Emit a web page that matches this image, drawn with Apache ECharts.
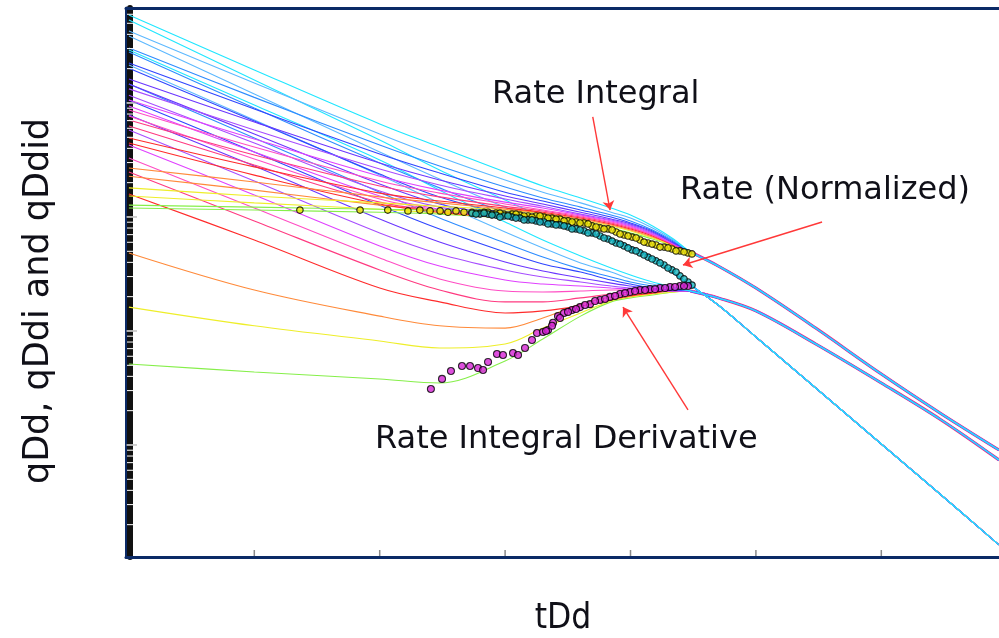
<!DOCTYPE html>
<html><head><meta charset="utf-8">
<script src="https://cdn.jsdelivr.net/npm/echarts@6.0.0/dist/echarts.min.js"></script>
<style>html,body{margin:0;padding:0;background:#fff}#c{width:999px;height:638px}</style>
</head><body><div id="c"></div>
<script>
// ---- dimensionless decline time grid (tDd) ----
const tDd = [1e-4, 1e-3, 0.01, 0.03, 0.1, 0.2, 0.4, 0.7, 1, 1.5, 2.2, 3, 5, 10, 30, 100, 300, 868];
const tDdLate = [3, 5, 10, 30, 100, 300, 868];

// ---- rate integral qDdi, transient stems (first 11 grid points) ----
const qDdi_s1  = [59.2, 19.5, 6.55, 4.11, 2.48, 1.87, 1.47, 1.20, 1.04, 0.834, 0.641];
const qDdi_s2  = [42.8, 15.0, 5.35, 3.36, 2.11, 1.65, 1.33, 1.10, 0.979, 0.801, 0.628];
const qDdi_s3  = [30.4, 11.2, 4.28, 2.80, 1.83, 1.47, 1.22, 1.04, 0.923, 0.769, 0.615];
const qDdi_s4  = [22.4, 8.85, 3.57, 2.43, 1.65, 1.38, 1.15, 0.998, 0.886, 0.754, 0.603];
const qDdi_s5  = [16.2, 6.82, 2.97, 2.11, 1.53, 1.30, 1.10, 0.959, 0.869, 0.738, 0.591];
const qDdi_s6  = [13.3, 5.80, 2.64, 1.91, 1.44, 1.24, 1.06, 0.942, 0.851, 0.724, 0.591];
const qDdi_s7  = [10.6, 4.83, 2.28, 1.72, 1.35, 1.20, 1.04, 0.923, 0.834, 0.709, 0.579];
const qDdi_s8  = [8.68, 4.11, 2.07, 1.62, 1.30, 1.15, 1.02, 0.904, 0.817, 0.695, 0.579];
const qDdi_s9  = [7.10, 3.50, 1.87, 1.50, 1.24, 1.13, 0.998, 0.886, 0.801, 0.695, 0.568];
const qDdi_s10 = [4.93, 2.75, 1.62, 1.38, 1.20, 1.10, 0.979, 0.869, 0.785, 0.681, 0.568];
const qDdi_s11 = [2.69, 2.03, 1.50, 1.33, 1.17, 1.08, 0.959, 0.851, 0.769, 0.667, 0.568];
const qDdi_s12 = [1.80, 1.53, 1.33, 1.24, 1.15, 1.06, 0.942, 0.834, 0.754, 0.654, 0.557];
const qDdi_s13 = [1.27, 1.22, 1.17, 1.15, 1.10, 1.02, 0.904, 0.801, 0.724, 0.641, 0.557];
const qDdiLate = [0.494, 0.372, 0.238, 0.106, 0.0419, 0.0188, 0.00903];

// ---- rate qDd ----
const qDd_s1  = [53.5, 15.9, 4.73, 2.58, 1.41, 0.998, 0.754, 0.628, 0.545, 0.437, 0.323];
const qDd_s2  = [38.7, 12.0, 3.72, 2.15, 1.22, 0.942, 0.754, 0.628, 0.545, 0.437, 0.323];
const qDd_s3  = [28.0, 9.03, 2.97, 1.80, 1.10, 0.904, 0.754, 0.628, 0.545, 0.437, 0.323];
const qDd_s4  = [20.2, 6.96, 2.38, 1.50, 1.06, 0.886, 0.754, 0.628, 0.545, 0.437, 0.323];
const qDd_s5  = [14.7, 5.35, 1.95, 1.30, 1.02, 0.886, 0.754, 0.628, 0.545, 0.437, 0.323];
const qDd_s6  = [11.7, 4.45, 1.69, 1.22, 0.998, 0.886, 0.754, 0.628, 0.545, 0.437, 0.323];
const qDd_s7  = [9.41, 3.72, 1.53, 1.17, 0.979, 0.886, 0.754, 0.628, 0.545, 0.437, 0.323];
const qDd_s8  = [7.69, 3.23, 1.44, 1.15, 0.979, 0.886, 0.754, 0.628, 0.545, 0.437, 0.323];
const qDd_s9  = [6.28, 2.86, 1.35, 1.13, 0.979, 0.886, 0.754, 0.628, 0.545, 0.437, 0.323];
const qDd_s10 = [4.45, 2.33, 1.30, 1.10, 0.979, 0.886, 0.754, 0.628, 0.545, 0.437, 0.323];
const qDd_s11 = [2.28, 1.72, 1.27, 1.13, 0.979, 0.886, 0.754, 0.628, 0.545, 0.437, 0.323];
const qDd_s12 = [1.53, 1.33, 1.17, 1.08, 0.979, 0.886, 0.754, 0.628, 0.545, 0.437, 0.323];
const qDd_s13 = [1.20, 1.15, 1.10, 1.06, 0.979, 0.886, 0.754, 0.628, 0.545, 0.437, 0.323];
const qDdLate = [0.253, 0.169, 0.0886, 0.0316, 0.0102, 0.00364, 0.00133];

// ---- rate integral derivative qDdid ----
const qDdid_s1  = [29.2, 9.60, 3.16, 1.72, 0.904, 0.628, 0.455, 0.357, 0.310, 0.269, 0.243];
const qDdid_s2  = [21.5, 7.10, 2.33, 1.33, 0.738, 0.535, 0.395, 0.329, 0.286, 0.258, 0.238];
const qDdid_s3  = [14.7, 4.93, 1.65, 0.979, 0.591, 0.445, 0.349, 0.298, 0.269, 0.248, 0.233];
const qDdid_s4  = [10.6, 3.72, 1.27, 0.785, 0.493, 0.387, 0.329, 0.280, 0.258, 0.238, 0.229];
const qDdid_s5  = [7.85, 2.80, 0.959, 0.603, 0.403, 0.336, 0.292, 0.263, 0.248, 0.233, 0.229];
const qDdid_s6  = [5.80, 2.07, 0.724, 0.474, 0.343, 0.298, 0.269, 0.248, 0.238, 0.229, 0.224];
const qDdid_s7  = [4.28, 1.56, 0.557, 0.371, 0.280, 0.258, 0.248, 0.238, 0.233, 0.229, 0.224];
const qDdid_s8  = [3.29, 1.20, 0.437, 0.286, 0.224, 0.220, 0.224, 0.229, 0.229, 0.229, 0.224];
const qDdid_s9  = [2.48, 0.923, 0.343, 0.229, 0.180, 0.180, 0.195, 0.211, 0.220, 0.224, 0.224];
const qDdid_s10 = [1.59, 0.628, 0.238, 0.180, 0.144, 0.150, 0.166, 0.187, 0.203, 0.215, 0.224];
const qDdid_s11 = [0.484, 0.229, 0.135, 0.111, 0.106, 0.130, 0.172, 0.199, 0.211, 0.220, 0.224];
const qDdid_s12 = [0.162, 0.111, 0.0817, 0.0710, 0.0769, 0.106, 0.144, 0.183, 0.199, 0.211, 0.220];
const qDdid_s13 = [0.0514, 0.0437, 0.0379, 0.0350, 0.0546, 0.0850, 0.135, 0.180, 0.195, 0.207, 0.220];
const qDdidLate = [0.224, 0.195, 0.150, 0.0769, 0.0350, 0.0166, 0.00739];

// ---- field data points ----
const integralData_t = [0.00231, 0.00697, 0.0116, 0.0168, 0.0209, 0.0252, 0.0303, 0.0350, 0.0406, 0.0470, 0.0544, 0.0631, 0.0731, 0.0846, 0.0979, 0.1135, 0.1315, 0.1522, 0.1764, 0.2043, 0.2366, 0.2741, 0.3175, 0.3678, 0.4260, 0.4934, 0.5715, 0.6620, 0.7669, 0.8882, 1.029, 1.191, 1.379, 1.598, 1.851, 2.142, 2.481, 2.874,
  0.0586, 0.0679, 0.0786, 0.0910, 0.1054, 0.1221, 0.1415, 0.1638, 0.1898, 0.2198, 0.2547, 0.2950, 0.3417, 0.3958, 0.4583, 0.5310, 0.6150, 0.7125, 0.8253, 0.9557, 1.107, 1.282, 1.485, 1.720, 1.992, 2.306, 2.670, 3.092];
const integralData_q = [1.15, 1.15, 1.15, 1.13, 1.15, 1.13, 1.13, 1.10, 1.13, 1.10, 1.10, 1.08, 1.10, 1.08, 1.06, 1.06, 1.04, 1.02, 1.02, 0.998, 0.979, 0.959, 0.923, 0.904, 0.886, 0.834, 0.801, 0.785, 0.738, 0.695, 0.667, 0.628, 0.591, 0.568, 0.545, 0.524, 0.504, 0.484,
  1.08, 1.10, 1.06, 1.08, 1.04, 1.06, 1.02, 0.998, 1.02, 0.979, 0.959, 0.923, 0.904, 0.886, 0.869, 0.817, 0.785, 0.769, 0.709, 0.681, 0.654, 0.603, 0.579, 0.545, 0.535, 0.504, 0.494, 0.474];
const rateData_t = [0.0544, 0.0631, 0.0731, 0.0846, 0.0979, 0.1135, 0.1315, 0.1522, 0.1764, 0.2043, 0.2366, 0.2741, 0.3175, 0.3678, 0.4260, 0.4934, 0.5715, 0.6620, 0.7669, 0.8882, 1.029, 1.191, 1.379, 1.598, 1.851, 2.142, 2.481, 2.874,
  0.0586, 0.0679, 0.0786, 0.0910, 0.1054, 0.1221, 0.1415, 0.1638, 0.1898, 0.2198, 0.2547, 0.2950, 0.3417, 0.3958, 0.4583, 0.5310, 0.6150, 0.7125, 0.8253, 0.9557, 1.107, 1.282, 1.485, 1.720, 1.992, 2.306, 2.670, 3.092];
const rateData_q = [1.08, 1.06, 1.06, 1.04, 1.02, 0.998, 0.979, 0.942, 0.923, 0.904, 0.869, 0.851, 0.817, 0.785, 0.754, 0.724, 0.681, 0.641, 0.591, 0.557, 0.514, 0.484, 0.445, 0.412, 0.379, 0.343, 0.304, 0.269,
  1.06, 1.08, 1.04, 0.998, 1.02, 0.979, 0.942, 0.942, 0.904, 0.869, 0.851, 0.834, 0.785, 0.769, 0.724, 0.709, 0.654, 0.615, 0.579, 0.535, 0.504, 0.464, 0.428, 0.395, 0.357, 0.329, 0.286, 0.253];
const derivData_t = [0.0256, 0.0314, 0.0370, 0.0453, 0.0525, 0.0608, 0.0667, 0.0731, 0.0861, 0.0962, 0.1156, 0.1268, 0.1441, 0.1638, 0.1796, 0.2005, 0.2199, 0.2410, 0.2642, 0.2950, 0.3417, 0.3958, 0.4756, 0.5715, 0.6868, 0.8253, 0.9918, 1.191, 1.431, 1.720, 2.065, 2.481, 2.874,
  0.2119, 0.2366, 0.2741, 0.3174, 0.3678, 0.4339, 0.5214, 0.6265, 0.7529, 0.9047, 1.087, 1.306, 1.569, 1.885, 2.264, 2.670];
const derivData_q = [0.0310, 0.0380, 0.0446, 0.0493, 0.0493, 0.0473, 0.0455, 0.0535, 0.0628, 0.0616, 0.0641, 0.0616, 0.0710, 0.0834, 0.0960, 0.0979, 0.102, 0.118, 0.135, 0.144, 0.153, 0.162, 0.172, 0.187, 0.199, 0.211, 0.220, 0.229, 0.233, 0.238, 0.243, 0.248, 0.248,
  0.100, 0.111, 0.130, 0.147, 0.156, 0.169, 0.183, 0.191, 0.203, 0.215, 0.224, 0.229, 0.233, 0.238, 0.243, 0.248];

// ---- axis ranges and tick values ----
const X_MIN = 9.48e-5, X_MAX = 868, Y_MIN = 1.041e-3, Y_MAX = 68.1;
const xMajorTicks = [0.001, 0.01, 0.1, 1, 10, 100];
const yMajorTicks = [0.01, 0.1, 1, 10];
const yMinorTicks = [0.002,0.003,0.004,0.005,0.006,0.007,0.008,0.009,0.01,0.02,0.03,0.04,0.05,0.06,0.07,0.08,0.09,0.1,0.2,0.3,0.4,0.5,0.6,0.7,0.8,0.9,1,2,3,4,5,6,7,8,9,10,20,30,40,50,60];

// ---- annotations ----
const labels = ['Rate Integral', 'Rate (Normalized)', 'Rate Integral Derivative'];
const arrowFrom = [[0.50, 7.54], [33.7, 0.904], [2.874, 0.0203]];
const arrowTo   = [[0.687, 1.15], [2.62, 0.379], [0.871, 0.162]];

// ---- styles ----
const stemColors = ['#1fe6ff','#5cb8ff','#2d8cff','#2f45ff','#6a35ff','#a64dff','#e040ff','#ff4dc4','#ff3a80','#ff2b2b','#ff8a3a','#eeee2a','#86ef4a'];
const bundleColors = ['#ff3366', '#9a44ff', '#3366ff'];
const bundleWidths = [3.0, 2.3, 1.7];

const I = [qDdi_s1,qDdi_s2,qDdi_s3,qDdi_s4,qDdi_s5,qDdi_s6,qDdi_s7,qDdi_s8,qDdi_s9,qDdi_s10,qDdi_s11,qDdi_s12,qDdi_s13];
const R = [qDd_s1,qDd_s2,qDd_s3,qDd_s4,qDd_s5,qDd_s6,qDd_s7,qDd_s8,qDd_s9,qDd_s10,qDd_s11,qDd_s12,qDd_s13];
const D = [qDdid_s1,qDdid_s2,qDdid_s3,qDdid_s4,qDdid_s5,qDdid_s6,qDdid_s7,qDdid_s8,qDdid_s9,qDdid_s10,qDdid_s11,qDdid_s12,qDdid_s13];

function curve(head, tail) { return head.concat(tail).map((q, i) => [tDd[i], q]); }
function pts(t, q) { return t.map((v, i) => [v, q[i]]); }

const series = [];
// merged late-time bundles (under-layers so the stems read as a multicolour band)
[qDdiLate, qDdidLate].forEach(tail => {
  bundleColors.forEach((c, k) => {
    series.push({ type: 'line', data: pts(tDdLate, tail), symbol: 'none', showSymbol: false, smooth: 0.35, silent: true, z: 1,
      lineStyle: { color: c, width: bundleWidths[k] } });
  });
});
[[D, qDdidLate], [R, qDdLate], [I, qDdiLate]].forEach(([fam, tail]) => {
  for (let s = fam.length - 1; s >= 0; s--) {
    series.push({
      type: 'line', data: curve(fam[s], tail), symbol: 'none', showSymbol: false,
      smooth: 0.35, silent: true, z: 2,
      lineStyle: { color: stemColors[s], width: 1.1 }
    });
  }
});

series.push({ type: 'scatter', data: pts(integralData_t, integralData_q), symbol: 'circle', symbolSize: 6.5, z: 5, silent: true,
  itemStyle: { color: '#f2e600', borderColor: '#000', borderWidth: 1.2 } });
series.push({ type: 'scatter', data: pts(rateData_t, rateData_q), symbol: 'circle', symbolSize: 6.5, z: 5, silent: true,
  itemStyle: { color: '#19b8c2', borderColor: '#000', borderWidth: 1.2 } });
series.push({ type: 'scatter', data: pts(derivData_t, derivData_q), symbol: 'circle', symbolSize: 7, z: 5, silent: true,
  itemStyle: { color: '#d424d4', borderColor: '#000', borderWidth: 1.1 },
  markLine: {
    silent: true, symbol: ['none', 'arrow'], symbolSize: 9, animation: false,
    lineStyle: { color: '#ff3838', width: 1.4, type: 'solid' }, label: { show: false },
    emphasis: { disabled: true },
    data: arrowFrom.map((p, i) => [{ coord: p }, { coord: arrowTo[i] }])
  } });

// axis tick marks drawn through the axis scales
series.push({ type: 'custom', silent: true, z: 4, clip: false,
  data: yMinorTicks.map(v => [X_MIN, v]),
  renderItem: (params, api) => {
    const p = api.coord([api.value(0), api.value(1)]);
    return { type: 'line', shape: { x1: p[0] + 1, y1: p[1], x2: p[0] + 7, y2: p[1] }, style: { stroke: '#ffffff', lineWidth: 1 } };
  } });
series.push({ type: 'custom', silent: true, z: 3, clip: false,
  data: yMajorTicks.map(v => [X_MIN, v]),
  renderItem: (params, api) => {
    const p = api.coord([api.value(0), api.value(1)]);
    return { type: 'line', shape: { x1: p[0], y1: p[1], x2: p[0] + 11, y2: p[1] }, style: { stroke: '#a0a0a0', lineWidth: 1 } };
  } });
series.push({ type: 'custom', silent: true, z: 3, clip: false,
  data: xMajorTicks.map(v => [v, Y_MIN]),
  renderItem: (params, api) => {
    const p = api.coord([api.value(0), api.value(1)]);
    return { type: 'line', shape: { x1: p[0], y1: p[1] - 1, x2: p[0], y2: p[1] - 7 }, style: { stroke: '#8a8a8a', lineWidth: 1.5 } };
  } });

const navy = '#0b2a66';
const hidden = { axisTick: { show: false }, axisLabel: { show: false }, splitLine: { show: false } };
const txt = '#101018';
const font = '32px "DejaVu Sans"';

const chart = echarts.init(document.getElementById('c'), null, { renderer: 'canvas', width: 999, height: 638 });
chart.setOption({
  animation: false,
  backgroundColor: '#ffffff',
  grid: { left: 126, right: 0, top: 8, bottom: 81 },
  xAxis: [
    Object.assign({ type: 'log', min: X_MIN, max: X_MAX, position: 'bottom',
      axisLine: { show: true, onZero: false, lineStyle: { color: navy, width: 3 } } }, hidden),
    Object.assign({ type: 'value', min: 0, max: 1, position: 'top',
      axisLine: { show: true, onZero: false, lineStyle: { color: navy, width: 3 } } }, hidden)
  ],
  yAxis: [
    Object.assign({ type: 'log', min: Y_MIN, max: Y_MAX, position: 'left',
      axisLine: { show: true, onZero: false, lineStyle: { color: navy, width: 3 } } }, hidden),
    Object.assign({ type: 'value', min: 0, max: 1, position: 'left', offset: -4,
      axisLine: { show: true, onZero: false, lineStyle: { color: '#111111', width: 6 } } }, hidden)
  ],
  graphic: [
    { type: 'text', x: 492, y: 95, silent: true, style: { text: labels[0], font: font, fill: txt, align: 'left', verticalAlign: 'middle' } },
    { type: 'text', x: 680, y: 191, silent: true, style: { text: labels[1], font: font, fill: txt, align: 'left', verticalAlign: 'middle' } },
    { type: 'text', x: 375, y: 440, silent: true, style: { text: labels[2], font: font, fill: txt, align: 'left', verticalAlign: 'middle' } },
    { type: 'text', x: 39, y: 301, rotation: Math.PI / 2, silent: true, style: { text: 'qDd, qDdi and qDdid', font: '35px "DejaVu Sans"', fill: txt, align: 'center', verticalAlign: 'middle' } },
    { type: 'text', x: 563, y: 619, silent: true, style: { text: 'tDd', font: '35px "Liberation Sans Narrow", "DejaVu Sans Condensed", "DejaVu Sans"', fill: txt, align: 'center', verticalAlign: 'middle' } }
  ],
  series: series
});
</script></body></html>
